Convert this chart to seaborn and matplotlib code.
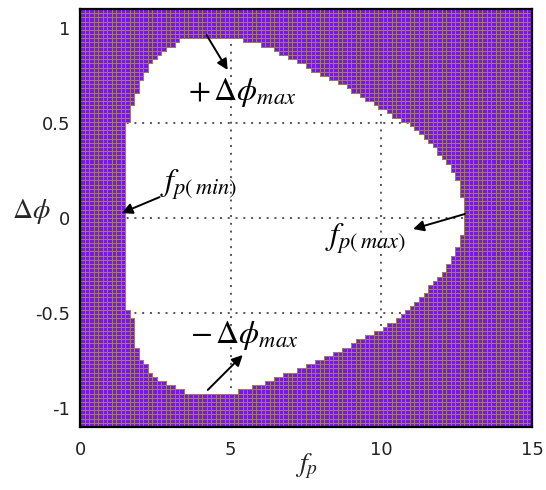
import numpy as np
import pandas as pd
import matplotlib
matplotlib.use("Agg")
import matplotlib.pyplot as plt
from matplotlib.colors import ListedColormap, to_rgba
import seaborn as sns

# ---- data ----
# left boundary of the stable (white) region: f_p(min) vs delta-phi
phi_left = [-0.925, -0.89, -0.85, -0.82, -0.75, -0.66, -0.50, -0.47, -0.43,
            0.45, 0.52, 0.58, 0.67, 0.74, 0.83, 0.89, 0.925, 0.955]
f_left = [3.57, 3.21, 2.64, 2.38, 2.04, 1.81, 1.71, 1.55, 1.48,
          1.48, 1.58, 1.71, 1.88, 2.08, 2.41, 2.87, 3.21, 3.54]
# right boundary: f_p(max) vs delta-phi
phi_right = [-0.925, -0.895, -0.853, -0.837, -0.763, -0.679, -0.589, -0.537,
             -0.468, -0.363, -0.258, -0.153, -0.063, 0.058, 0.163, 0.289,
             0.395, 0.479, 0.584, 0.689, 0.779, 0.868, 0.90, 0.926, 0.955]
f_right = [5.03, 5.63, 6.40, 6.63, 7.72, 8.85, 9.95, 10.51,
           11.05, 11.61, 12.18, 12.51, 12.77, 12.77, 12.61, 12.18,
           11.61, 11.05, 9.95, 8.85, 7.72, 6.63, 6.40, 5.53, 4.97]
phi_min_stable, phi_max_stable = -0.925, 0.955

x_ticks = [0, 5, 10, 15]
x_ticklabels = ["0", "5", "10", "15"]
y_ticks = [1, 0.5, 0, -0.5, -1]
y_ticklabels = ["1", "0.5", "0", "-0.5", "-1"]
grid_x = [5, 10]
grid_y = [0.5, 0, -0.5]

# annotations: (label, text position, arrow tail, arrow head)
ann_labels = [r"$+\,\Delta\phi_{max}$", r"$f_{p(\,min)}$", r"$f_{p(\,max)}$", r"$-\,\Delta\phi_{max}$"]
ann_text_xy = [(3.57, 0.66), (2.64, 0.175), (8.12, -0.11), (3.64, -0.616)]
ann_tail = [(4.20, 0.963), (2.64, 0.11), (12.77, 0.021), (4.24, -0.905)]
ann_head = [(4.90, 0.779), (1.38, 0.026), (11.05, -0.058), (5.40, -0.721)]

# ---- grid of cells ----
xlim = (0, 15)
ylim = (-1.1, 1.1)
nx, ny = 100, 100
f_edges = np.linspace(xlim[0], xlim[1], nx + 1)
p_edges = np.linspace(ylim[1], ylim[0], ny + 1)  # top to bottom
f_c = 0.5 * (f_edges[:-1] + f_edges[1:])
p_c = 0.5 * (p_edges[:-1] + p_edges[1:])
F, P = np.meshgrid(f_c, p_c)
lo = np.interp(P, phi_left, f_left)
hi = np.interp(P, phi_right, f_right)
inside = (F >= lo) & (F <= hi) & (P <= phi_max_stable) & (P >= phi_min_stable)
df = pd.DataFrame(np.ones_like(F), index=np.round(p_c, 3), columns=np.round(f_c, 3))

purple = "#7818e4"
tan = "#a37a66"

sns.set_style("white")
plt.rcParams["font.family"] = ["DejaVu Sans"]
plt.rcParams["mathtext.fontset"] = "stix"

fig = plt.figure(figsize=(5.46, 4.9), dpi=100)
rect = [80 / 546, 1 - 427 / 490, 452 / 546, 418 / 490]
ax = fig.add_axes(rect, zorder=0)
ax.set_facecolor("white")
ax.set_xlim(*xlim)
ax.set_ylim(*ylim)
for gx in grid_x:
    ax.axvline(gx, color="#555555", lw=1.4, ls=(0, (1, 3)))
for gy in grid_y:
    ax.axhline(gy, color="#555555", lw=1.4, ls=(0, (1, 3)))
ax.set_xticks(x_ticks)
ax.set_xticklabels(x_ticklabels, fontsize=13, color="#222222")
ax.set_yticks(y_ticks)
ax.set_yticklabels(y_ticklabels, fontsize=13, color="#222222")
ax.tick_params(axis="both", length=0)
ax.tick_params(axis="x", pad=10)
ax.tick_params(axis="y", pad=7)
for s in ax.spines.values():
    s.set_visible(False)
ax.set_xlabel(r"$f_p$", fontsize=20, va="center")
ax.xaxis.set_label_coords(0.5, -0.095)
ax.set_ylabel(r"$\Delta\phi$", fontsize=20, rotation=0, va="center", ha="center")
ax.yaxis.set_label_coords(-0.108, 0.515)

axh = fig.add_axes(rect, zorder=1)
axh.set_facecolor("none")
sns.heatmap(df, ax=axh, mask=inside, cmap=ListedColormap([purple]), cbar=False,
            linewidths=0.55, linecolor=tan, xticklabels=False, yticklabels=False)
mesh = axh.collections[0]
ec = np.where(inside.ravel()[:, None], np.array(to_rgba("white", 0.0)), np.array(to_rgba(tan)))
mesh.set_edgecolor(ec)
mesh.set_antialiased(True)
axh.set_xlabel("")
axh.set_ylabel("")
axh.set_xticks([])
axh.set_yticks([])
for s in axh.spines.values():
    s.set_visible(True)
    s.set_color("black")
    s.set_linewidth(1.6)

for lab, txy, tail, head in zip(ann_labels, ann_text_xy, ann_tail, ann_head):
    axh.text(txy[0], txy[1], lab, transform=ax.transData, fontsize=23,
             ha="left", va="center", color="black", zorder=5)
    axh.annotate("", xy=head, xytext=tail, xycoords=ax.transData, textcoords=ax.transData,
                 arrowprops=dict(arrowstyle="-|>", color="black", lw=1.4, mutation_scale=16,
                                 shrinkA=0, shrinkB=0), zorder=5)

fig.savefig("out.png", dpi=100)
